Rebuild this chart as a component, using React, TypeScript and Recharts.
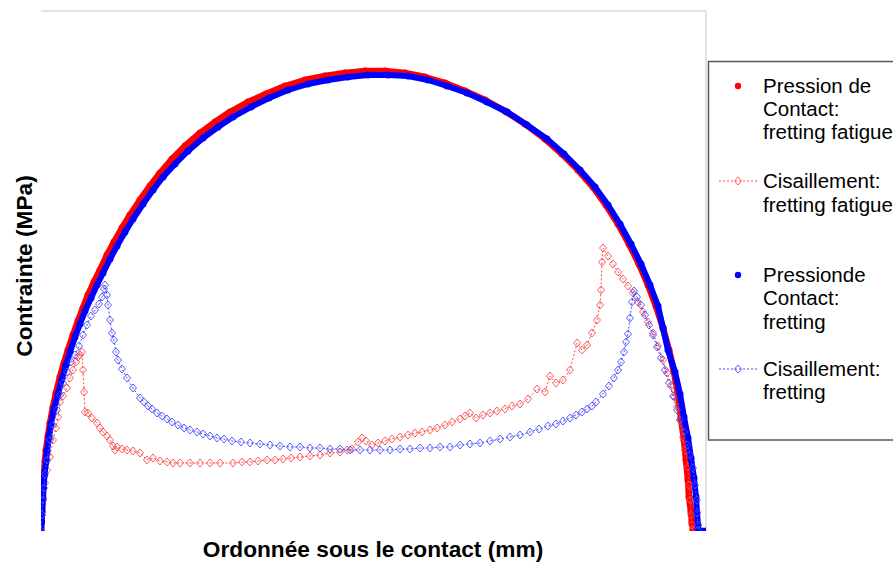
import React from 'react';
import { ScatterChart, Scatter, XAxis, YAxis, ReferenceLine } from 'recharts';

// x: position under the contact (µm), y: stress (MPa)
const pressionFrettingFatigue: [number, number][] = [
  [0,0],[0.5,10],[1,21],[1.5,33],[2,44],[3,57],[4,70],[5,81],[7,95],[9,108],[12,124],[15,138],[19,154],[23,168],[27,181],[32,196],[37,210],[42,223],[47,236],[53,249],[59,261],[66,276],[73,289],[81,303],[89,316],[99,331],[109,345],[119,358],[131,372],[144,385],[159,398],[174,409],[189,419],[207,429],[225,437],[244,445],[264,451],[284,455],[304,458],[324,460],[344,460],[364,458],[384,454],[404,448],[424,440],[444,431],[464,420],[484,407],[504,392],[521,377],[537,361],[552,344],[565,326],[577,307],[588,287],[598,267],[607,246],[615,225],[622,203],[628,181],[633,159],[637,136],[640,113],[643,91],[645,71],[647,51],[648,34],[650,19],[651,8],[652,1],[656,0]
];

const cisaillementFrettingFatigue: [number, number][] = [
  [0,0],[1,16],[2,33],[4,48],[6,61],[9,74],[12,91],[15,103],[17,114],[19,129],[22,135],[26,143],[29,153],[32,161],[35,169],[37,174],[39,176],[41,179],
  [42,161],[43,139],[44,119],[47,118],[51,113],[56,108],[59,103],[62,99],[66,95],[69,91],[72,85],[74,81],[76,84],[81,82],[86,81],[92,80],[99,78],[106,71],[112,73],[119,70],[126,69],
  [132,68],[139,68],[149,68],[159,68],[169,68],[179,68],[192,68],[201,69],[209,69],[217,70],[226,71],[234,71],[242,72],[250,73],[259,74],[269,75],[279,76],[289,78],[299,79],[306,81],[311,82],
  [317,89],[321,93],[325,90],
  [331,86],[337,88],[344,90],[351,92],[359,94],[367,96],[374,98],[381,99],[389,101],[396,103],[404,106],[411,109],[419,112],[424,115],[429,118],
  [435,113],[442,116],[449,118],[456,120],[464,122],[471,125],[479,127],[487,132],[496,142],
  [504,139],[509,155],[515,148],[522,151],[529,161],[536,188],[541,181],[546,186],[551,198],[556,211],[559,226],[560,241],[561,269],[562,283],
  [567,275],[572,267],[577,259],[582,252],[587,245],[592,238],[597,229],[602,219],[607,209],[612,198],[617,185],[622,171],[626,158],[630,145],[633,134],[636,124],[639,111],[642,94],[644,81],[647,64],[648,46],[649,31],[650,16],[651,6],[652,1]
];

const pressionFretting: [number, number][] = [
  [0,0],[0.5,9],[1,19],[2,32],[2.5,43],[3.5,56],[5,69],[6,80],[8,94],[10,107],[13,122],[17,137],[21,152],[25,166],[29,179],[34,194],[39,207],[44,220],[50,233],[56,246],[62,258],[69,272],[76,285],[84,299],[92,312],[102,327],[112,341],[122,354],[134,367],[147,380],[162,393],[177,404],[192,414],[210,424],[228,433],[247,441],[267,447],[287,451],[307,454],[327,456],[347,456],[367,455],[387,451],[406,445],[426,438],[446,429],[466,419],[486,406],[506,392],[523,377],[539,361],[554,344],[567,326],[579,307],[590,287],[600,267],[609,246],[617,225],[622,203],[627,181],[634,159],[639,137],[643,114],[647,93],[650,73],[653,53],[655,34],[656,18],[657,6],[657,1],[661,0],[665,0]
];

const cisaillementFretting: [number, number][] = [
  [0,0],[1,16],[2,31],[3,43],[4,57],[6,71],[9,91],[12,106],[16,121],[19,136],[22,148],[26,159],[30,169],[34,176],[38,185],[42,196],[46,206],[50,215],[54,221],[58,227],[61,234],[63,242],[64,246],
  [66,236],[67,226],[69,211],[71,198],[73,191],[75,179],[77,171],[81,162],[86,153],[92,143],
  [99,133],[103,129],[107,125],[111,122],[116,118],[121,115],[126,112],[131,109],[137,106],[143,103],
  [149,101],[156,99],[162,97],[169,95],[176,93],[183,92],[191,90],[200,89],[209,88],[219,87],[229,86],[239,85],[249,84],[259,84],[269,83],[279,83],[289,82],[299,82],[309,81],[319,81],[329,81],[339,81],[349,81],[359,82],[369,82],[379,83],[389,83],[399,84],[409,84],[419,86],[429,87],[439,88],[449,90],[459,92],[469,94],[479,96],[489,99],[498,102],[507,105],[515,107],[522,110],[529,113],[535,116],[541,119],[546,122],[551,125],[555,129],
  [562,137],[568,145],[573,153],[577,161],[580,169],[583,179],[585,189],[587,197],[589,213],[591,229],[593,240],
  [596,234],[600,226],[604,216],[608,206],[612,196],[616,184],[620,173],[624,161],[628,148],[632,135],[636,121],[639,111],[643,99],[646,86],[649,76],[652,63],[654,46],[656,31],[656,18],[657,6],[657,1]
];

const legendLabels = [
  ['Pression de', 'Contact:', 'fretting fatigue'],
  ['Cisaillement:', 'fretting fatigue'],
  ['Pressionde', 'Contact:', 'fretting'],
  ['Cisaillement:', 'fretting'],
];
const xTitle = 'Ordonnée sous le contact (mm)';
const yTitle = 'Contrainte (MPa)';

const toPts = (arr: [number, number][]) => arr.map(([x, y]) => ({ x, y }));

const RED = '#ff0000';
const BLUE = '#0000ff';
const RED_SHEAR = '#ff4a4a';
const BLUE_SHEAR = '#4a4aff';

const dotShape = (color: string, r: number) => (p: any) =>
  p.cx == null ? <g /> : <circle cx={p.cx} cy={p.cy} r={r} fill={color} />;

const diamondShape = (color: string) => (p: any) =>
  p.cx == null ? <g /> : (
    <path
      d={`M${p.cx},${p.cy - 4} L${p.cx + 3.5},${p.cy} L${p.cx},${p.cy + 4} L${p.cx - 3.5},${p.cy} Z`}
      fill="none"
      stroke={color}
      strokeWidth={0.9}
    />
  );

const FONT = '"Liberation Sans", Arial, sans-serif';

export default function App() {
  const legendBaselines = [[93, 116, 139], [188, 212], [282, 305, 329], [376, 399]];
  return (
    <div style={{ position: 'fixed', left: 0, top: 0, width: 893, height: 562, overflow: 'hidden', background: '#fff' }}>
      <ScatterChart width={893} height={562} margin={{ top: 11, right: 187, bottom: 31, left: 41 }}>
        <XAxis type="number" dataKey="x" domain={[0, 665]} tick={false} tickLine={false} height={0}
          axisLine={{ stroke: '#9a9a9a', strokeWidth: 2 }} allowDataOverflow />
        <YAxis type="number" dataKey="y" domain={[0, 520]} tick={false} tickLine={false} width={0}
          axisLine={{ stroke: '#9a9a9a', strokeWidth: 2 }} allowDataOverflow />
        <ReferenceLine y={520} stroke="#d9d9d9" strokeWidth={1.5} />
        <ReferenceLine x={665} stroke="#d9d9d9" strokeWidth={1.5} />
        <Scatter name="Pression de Contact: fretting fatigue" data={toPts(pressionFrettingFatigue)}
          line={{ stroke: RED, strokeWidth: 6.5, strokeLinejoin: 'round', strokeLinecap: 'round' }}
          shape={dotShape(RED, 3.5)} isAnimationActive={false} />
        <Scatter name="Cisaillement: fretting fatigue" data={toPts(cisaillementFrettingFatigue)}
          line={{ stroke: RED_SHEAR, strokeWidth: 1, strokeDasharray: '2 2' }}
          shape={diamondShape(RED_SHEAR)} isAnimationActive={false} />
        <Scatter name="Pressionde Contact: fretting" data={toPts(pressionFretting)}
          line={{ stroke: BLUE, strokeWidth: 6, strokeLinejoin: 'round', strokeLinecap: 'round' }}
          shape={dotShape(BLUE, 3.5)} isAnimationActive={false} />
        <Scatter name="Cisaillement: fretting" data={toPts(cisaillementFretting)}
          line={{ stroke: BLUE_SHEAR, strokeWidth: 1, strokeDasharray: '2 2' }}
          shape={diamondShape(BLUE_SHEAR)} isAnimationActive={false} />
      </ScatterChart>
      <svg width={893} height={562} style={{ position: 'absolute', left: 0, top: 0, pointerEvents: 'none' }}>
        <text x={373} y={557} textAnchor="middle" fontFamily={FONT} fontWeight="bold" fontSize={22.7} fill="#000">{xTitle}</text>
        <text transform="translate(32,266) rotate(-90)" textAnchor="middle" fontFamily={FONT} fontWeight="bold" fontSize={22.7} fill="#000">{yTitle}</text>
        <rect x={708.5} y={61.5} width={300} height={378.5} fill="#fff" stroke="#5a5a5a" strokeWidth={1.5} />
        <circle cx={738} cy={86} r={3.2} fill={RED} />
        <line x1={719} x2={758} y1={181} y2={181} stroke={RED_SHEAR} strokeWidth={1} strokeDasharray="2 2" />
        <path d="M738,177 L741.5,181 L738,185 L734.5,181 Z" fill="none" stroke={RED_SHEAR} strokeWidth={0.9} />
        <circle cx={738} cy={275} r={3.2} fill={BLUE} />
        <line x1={719} x2={758} y1={369} y2={369} stroke={BLUE_SHEAR} strokeWidth={1} strokeDasharray="2 2" />
        <path d="M738,365 L741.5,369 L738,373 L734.5,369 Z" fill="none" stroke={BLUE_SHEAR} strokeWidth={0.9} />
        {legendLabels.map((lines, i) =>
          lines.map((t, j) => (
            <text key={`${i}-${j}`} x={763} y={legendBaselines[i][j]} fontFamily={FONT} fontSize={20.5} fill="#000">{t}</text>
          ))
        )}
      </svg>
    </div>
  );
}
